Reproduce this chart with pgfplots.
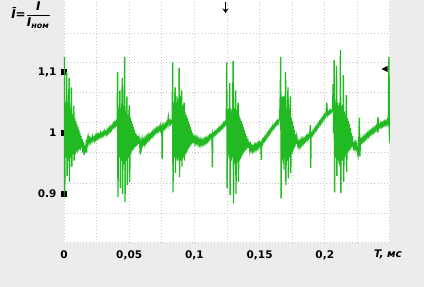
\documentclass[border=0pt]{standalone}
\usepackage{fontspec}
\setmainfont{DejaVu Sans}
\usepackage{pgfplots}
\pgfplotsset{compat=1.18}
\usetikzlibrary{arrows.meta}
\definecolor{bggray}{RGB}{236,236,236}
\definecolor{sig}{RGB}{34,186,34}
\definecolor{gridc}{RGB}{200,200,200}
\begin{document}
\begin{tikzpicture}[x=1pt,y=1pt]
\fill[bggray] (0,0) rectangle (424,287);
\begin{axis}[
  at={(64pt,44pt)}, anchor=south west,
  scale only axis, width=326pt, height=243pt,
  xmin=0, xmax=0.25, ymin=0.82, ymax=1.218,
  axis background/.style={fill=white},
  separate axis lines,
  axis line style={draw=none},
  xtick={0,0.05,0.1,0.15,0.2},
  xticklabels={0,{0,05},{0,1},{0,15},{0,2}},
  ytick={0.9,1,1.1},
  yticklabels={0.9,1,{1,1}},
  minor xtick={0,0.025,0.05,0.075,0.1,0.125,0.15,0.175,0.2,0.225,0.2499},
  minor ytick={0.8205,0.869,0.918,0.969,1.018,1.066,1.115,1.164},
  xminorgrids, yminorgrids,
  minor grid style={gridc, line width=0.8pt, dash pattern=on 0.8pt off 2.4pt},
  minor tick length=0pt,
  xtick pos=bottom, ytick pos=left,
  major x tick style={draw=none},
  major y tick style={black, line width=6pt},
  major tick length=6pt,
  tick align=center,
  ticklabel style={font=\fontsize{10.5}{12}\selectfont\bfseries},
  xticklabel style={yshift=-1pt},
  yticklabel style={xshift=-1pt},
]
\addplot[sig, line width=1.35pt] table {
0.0000 0.895
0.0003 1.125
0.0006 0.905
0.0010 1.05
0.0014 0.96
0.0018 1.04
0.0021 1.10
0.0024 0.93
0.0028 1.05
0.0032 0.955
0.0036 1.045
0.0039 1.09
0.0042 0.92
0.0046 1.04
0.0050 0.96
0.0054 1.035
0.0057 1.075
0.0060 0.945
0.0064 1.03
0.0068 0.965
0.0072 1.03
0.0075 1.045
0.0078 0.955
0.0082 1.025
0.0086 0.965
0.0090 1.02
0.0094 0.97
0.0098 1.015
0.0102 0.968
0.0106 1.01
0.0110 0.972
0.0114 1.005
0.0118 0.975
0.0122 1.0
0.0126 0.972
0.0130 0.995
0.0135 0.976
0.0140 0.99
0.0145 0.968
0.0150 0.985
0.0155 0.964
0.0160 0.980
0.0165 0.968
0.0170 0.982
0.0175 0.975
0.0180 0.990
0.0185 0.984
0.0190 0.993
0.0195 0.986
0.0200 0.991
0.0205 0.985
0.0210 0.990
0.0215 0.987
0.0220 0.994
0.0225 0.989
0.0230 0.992
0.0235 0.988
0.0240 0.995
0.0245 0.990
0.0250 0.996
0.0255 0.992
0.0260 0.998
0.0265 0.993
0.0270 0.997
0.0275 0.994
0.0280 1.000
0.0285 0.995
0.0290 0.999
0.0295 0.996
0.0300 1.001
0.0305 0.997
0.0310 1.003
0.0315 0.999
0.0320 1.002
0.0325 0.998
0.0330 1.004
0.0335 1.000
0.0340 1.006
0.0345 1.002
0.0350 1.008
0.0355 1.004
0.0360 1.010
0.0365 1.006
0.0370 1.012
0.0375 1.009
0.0380 1.015
0.0385 1.011
0.0390 1.017
0.0395 1.013
0.0400 1.018
0.0404 1.015
0.0408 1.02
0.0411 1.10
0.0414 0.895
0.0418 1.04
0.0422 0.96
0.0426 1.035
0.0429 1.07
0.0432 0.91
0.0436 1.04
0.0440 0.955
0.0444 1.045
0.0447 1.09
0.0450 0.90
0.0454 1.045
0.0458 0.95
0.0462 1.04
0.0465 1.125
0.0468 0.887
0.0472 1.035
0.0476 0.955
0.0480 1.04
0.0483 1.06
0.0486 0.915
0.0490 1.03
0.0494 0.96
0.0498 1.03
0.0501 1.045
0.0504 0.92
0.0508 1.025
0.0512 0.965
0.0516 1.02
0.0520 0.97
0.0524 1.015
0.0528 0.972
0.0532 1.01
0.0536 0.975
0.0540 1.005
0.0544 0.977
0.0548 1.0
0.0552 0.978
0.0556 0.998
0.0560 0.98
0.0565 0.995
0.0570 0.982
0.0575 0.992
0.0580 0.985
0.0585 0.965
0.0590 0.985
0.0595 0.978
0.0600 0.990
0.0605 0.983
0.0610 0.988
0.0615 0.982
0.0620 0.990
0.0625 0.985
0.0630 0.993
0.0635 0.987
0.0640 0.994
0.0645 0.989
0.0650 0.996
0.0655 0.991
0.0660 0.997
0.0665 0.993
0.0670 0.999
0.0675 0.995
0.0680 1.001
0.0685 0.997
0.0690 1.004
0.0695 1.000
0.0700 1.005
0.0705 1.001
0.0710 1.007
0.0715 1.003
0.0720 1.008
0.0725 1.004
0.0730 1.010
0.0735 1.006
0.0740 1.011
0.0745 1.000
0.0750 1.012
0.0753 0.958
0.0756 1.010
0.0760 1.006
0.0765 1.012
0.0770 1.008
0.0775 1.014
0.0780 1.010
0.0785 1.016
0.0790 1.012
0.0795 1.018
0.0800 1.026
0.0805 1.014
0.0810 1.019
0.0815 1.015
0.0820 1.02
0.0825 1.017
0.0830 1.02
0.0833 1.116
0.0836 0.903
0.0840 1.05
0.0844 0.96
0.0848 1.045
0.0852 1.075
0.0855 0.935
0.0859 1.05
0.0863 0.96
0.0867 1.06
0.0871 0.955
0.0875 1.055
0.0879 0.96
0.0883 1.107
0.0886 0.928
0.0890 1.06
0.0894 0.955
0.0898 1.055
0.0902 1.07
0.0905 0.945
0.0909 1.045
0.0913 0.96
0.0917 1.04
0.0921 1.05
0.0924 0.955
0.0928 1.035
0.0932 0.965
0.0936 1.03
0.0940 0.968
0.0944 1.025
0.0948 0.972
0.0952 1.02
0.0956 0.975
0.0960 1.015
0.0964 0.978
0.0968 1.01
0.0972 0.98
0.0976 1.005
0.0980 0.982
0.0985 1.0
0.0990 0.984
0.0995 0.996
0.1000 0.986
0.1005 0.993
0.1010 0.985
0.1015 0.991
0.1020 0.984
0.1025 0.990
0.1030 0.983
0.1035 0.989
0.1040 0.982
0.1045 0.988
0.1050 0.981
0.1055 0.987
0.1060 0.982
0.1065 0.988
0.1070 0.983
0.1075 0.989
0.1080 0.984
0.1085 0.990
0.1090 0.985
0.1095 0.991
0.1100 0.987
0.1105 0.993
0.1110 0.989
0.1115 0.995
0.1120 0.991
0.1125 0.996
0.1130 0.993
0.1135 0.998
0.1138 0.944
0.1141 0.997
0.1145 0.999
0.1150 0.996
0.1155 1.001
0.1160 0.998
0.1165 1.003
0.1170 1.000
0.1175 1.005
0.1180 1.002
0.1185 1.007
0.1190 1.004
0.1195 1.009
0.1200 1.006
0.1205 1.011
0.1210 1.008
0.1215 1.013
0.1220 1.010
0.1225 1.016
0.1230 1.013
0.1235 1.018
0.1240 1.015
0.1245 1.02
0.1248 1.116
0.1251 0.91
0.1255 1.03
0.1259 0.965
0.1263 1.04
0.1267 0.96
0.1271 1.082
0.1274 0.898
0.1278 1.04
0.1282 0.955
0.1286 1.035
0.1290 0.96
0.1294 1.05
0.1297 1.118
0.1300 0.885
0.1304 1.04
0.1308 0.95
0.1312 1.035
0.1316 1.07
0.1319 0.90
0.1323 1.038
0.1327 0.952
0.1331 1.035
0.1335 1.05
0.1338 0.92
0.1342 1.03
0.1346 0.955
0.1350 1.025
0.1354 0.958
0.1358 1.02
0.1362 0.962
0.1366 1.015
0.1370 0.965
0.1374 1.01
0.1378 0.968
0.1382 1.005
0.1386 0.97
0.1390 1.0
0.1395 0.972
0.1400 0.995
0.1405 0.975
0.1410 0.99
0.1415 0.976
0.1420 0.985
0.1425 0.972
0.1430 0.980
0.1435 0.973
0.1440 0.978
0.1445 0.971
0.1450 0.977
0.1455 0.972
0.1460 0.979
0.1465 0.973
0.1470 0.980
0.1475 0.975
0.1480 0.981
0.1485 0.976
0.1490 0.983
0.1495 0.978
0.1500 0.984
0.1505 0.980
0.1510 0.986
0.1513 0.956
0.1516 0.985
0.1520 0.988
0.1525 0.984
0.1530 0.990
0.1535 0.987
0.1540 0.993
0.1545 0.990
0.1550 0.996
0.1555 0.993
0.1560 0.999
0.1565 0.996
0.1570 1.002
0.1575 0.999
0.1580 1.005
0.1585 1.002
0.1590 1.008
0.1595 1.005
0.1600 1.011
0.1605 1.008
0.1610 1.013
0.1615 1.010
0.1620 1.016
0.1625 1.013
0.1630 1.018
0.1635 1.015
0.1640 1.020
0.1645 1.017
0.1650 1.021
0.1655 1.03
0.1658 1.06
0.1662 1.125
0.1665 0.893
0.1669 1.05
0.1673 0.96
0.1677 1.06
0.1681 0.95
0.1684 1.06
0.1687 0.94
0.1691 1.05
0.1695 0.96
0.1699 1.10
0.1702 0.915
0.1706 1.04
0.1710 0.955
0.1714 1.045
0.1718 1.075
0.1721 0.926
0.1725 1.04
0.1729 0.96
0.1733 1.035
0.1736 1.06
0.1739 0.935
0.1743 1.025
0.1747 0.965
0.1751 1.02
0.1755 0.97
0.1759 1.012
0.1763 0.975
0.1767 1.005
0.1771 0.978
0.1775 0.998
0.1780 0.982
0.1785 0.993
0.1790 0.984
0.1795 0.978
0.1800 0.985
0.1805 0.979
0.1810 0.986
0.1815 0.980
0.1820 0.988
0.1825 0.982
0.1830 0.989
0.1835 0.984
0.1840 0.990
0.1845 0.986
0.1850 0.992
0.1855 0.988
0.1860 0.994
0.1865 0.990
0.1870 0.996
0.1875 0.992
0.1880 0.997
0.1885 0.994
0.1889 1.013
0.1892 0.943
0.1895 0.998
0.1900 1.000
0.1905 0.997
0.1910 1.003
0.1915 1.000
0.1920 1.006
0.1925 1.003
0.1930 1.009
0.1935 1.006
0.1940 1.012
0.1945 1.009
0.1950 1.015
0.1955 1.012
0.1960 1.018
0.1965 1.015
0.1970 1.021
0.1975 1.018
0.1980 1.024
0.1985 1.021
0.1990 1.027
0.1995 1.024
0.2000 1.030
0.2005 1.027
0.2010 1.032
0.2015 1.050
0.2020 1.030
0.2025 1.034
0.2030 1.031
0.2035 1.036
0.2040 1.033
0.2045 1.037
0.2050 1.034
0.2055 1.036
0.2060 1.04
0.2064 1.08
0.2068 1.00
0.2072 1.12
0.2075 0.903
0.2079 1.05
0.2083 0.96
0.2087 1.05
0.2090 1.11
0.2093 0.93
0.2097 1.05
0.2101 0.955
0.2105 1.045
0.2109 0.95
0.2113 1.05
0.2117 0.945
0.2120 1.136
0.2123 0.902
0.2127 1.045
0.2131 0.955
0.2135 1.04
0.2139 0.96
0.2142 1.095
0.2145 0.92
0.2149 1.035
0.2153 0.96
0.2157 1.03
0.2161 0.965
0.2165 1.062
0.2168 0.936
0.2172 1.025
0.2176 0.968
0.2180 1.02
0.2184 0.97
0.2188 1.015
0.2192 0.972
0.2196 1.008
0.2200 0.975
0.2204 1.0
0.2208 0.978
0.2212 0.995
0.2216 0.98
0.2220 0.976
0.2225 0.982
0.2230 0.975
0.2235 0.983
0.2240 0.976
0.2245 0.982
0.2250 0.970
0.2255 0.964
0.2260 0.978
0.2265 1.025
0.2269 0.962
0.2273 0.985
0.2278 0.989
0.2283 0.985
0.2288 0.991
0.2293 0.987
0.2298 0.993
0.2303 0.989
0.2308 0.995
0.2313 0.991
0.2318 0.997
0.2323 0.993
0.2328 0.999
0.2333 0.995
0.2338 1.001
0.2343 0.997
0.2348 1.003
0.2353 0.999
0.2358 1.004
0.2363 1.000
0.2368 1.006
0.2373 1.002
0.2378 1.008
0.2383 1.004
0.2388 1.009
0.2393 1.005
0.2398 1.011
0.2403 1.007
0.2408 1.026
0.2413 1.008
0.2418 1.013
0.2423 1.010
0.2428 1.015
0.2433 1.011
0.2438 1.016
0.2443 1.012
0.2448 1.017
0.2453 1.013
0.2458 1.018
0.2463 1.014
0.2468 1.019
0.2473 1.015
0.2478 1.020
0.2483 1.016
0.2488 1.030
0.2492 1.125
0.2496 0.985
0.2500 1.02
};
\end{axis}
% y label
\node[anchor=center, inner sep=0pt] at (31,272)
  {\fontsize{12}{14}\selectfont\bfseries\itshape Ī=$\displaystyle\frac{\mbox{I}}{\mbox{I}_{\mbox{\fontsize{8}{9}\selectfont ном}}}$};
% x label
\node[anchor=center, inner sep=0pt] at (388,33)
  {\fontsize{10.5}{12}\selectfont\bfseries\itshape T, мс};
% cursor markers
\draw[-{Stealth[length=4.5pt,width=6pt]}, line width=1.4pt] (225.5,285) -- (225.5,274);
\fill[black] (387.5,221) -- (387.5,215) -- (381.5,218) -- cycle;
\pgfresetboundingbox
\path[use as bounding box] (0,0) rectangle (424,287);
\end{tikzpicture}
\end{document}
